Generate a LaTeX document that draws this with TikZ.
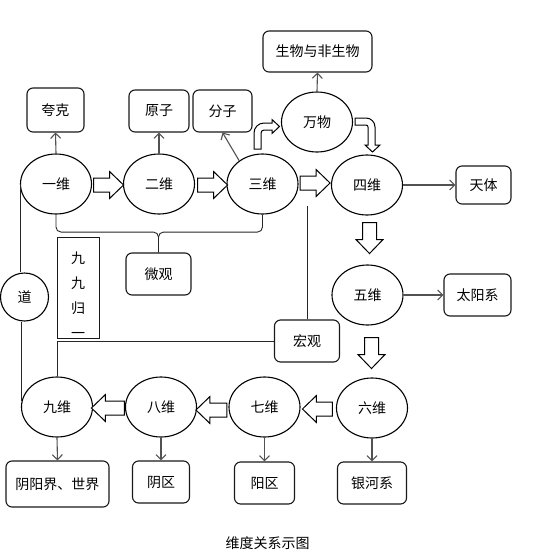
\documentclass[tikz,border=0pt]{standalone}
\usepackage{fontspec}
\newfontfamily\cjk{Noto Sans CJK SC}
\usetikzlibrary{shapes.geometric,arrows.meta,calc}
\tikzset{
  txt/.style={font=\cjk\fontsize{14}{16}\selectfont, inner sep=0pt, text=black},
  ell/.style={txt, draw=black, line width=1.1pt, ellipse, minimum width=71, minimum height=60},
  rbox/.style={txt, draw=black!90, line width=1.1pt, rounded corners=6pt},
  tarrow/.style={draw=black!68, line width=1.1pt, -{Straight Barb[length=5pt,width=10pt]}},
  pline/.style={draw=black!85, line width=0.9pt},
  bline/.style={draw=black, fill=white, line width=1pt},
  barrow/.pic={\draw[bline] (0,-7) -- ({#1-14},-7) -- ({#1-14},-13.5) -- (#1,0) -- ({#1-14},13.5) -- ({#1-14},7) -- (0,7) -- cycle;}
}
\begin{document}
\begin{tikzpicture}[x=1pt,y=-1pt]
\fill[white] (0,0) rectangle (554,558);
\useasboundingbox (0,0) rectangle (554,558);

% ellipses
\node[ell] (e1) at (56,184) {一维};
\node[ell] (e2) at (159,184) {二维};
\node[ell] (e3) at (262.5,184) {三维};
\node[ell] (e4) at (367,185) {四维};
\node[ell] (wm) at (317,122) {万物};
\node[ell] (e5) at (367.5,295) {五维};
\node[ell] (e6) at (372,408) {六维};
\node[ell] (e7) at (264.5,407) {七维};
\node[ell] (e8) at (161,407) {八维};
\node[ell] (e9) at (57,407) {九维};
\node[txt, draw=black, line width=1.1pt, circle, minimum size=48] (dao) at (24.5,297) {道};

% boxes
\node[rbox, minimum width=57, minimum height=44] (kuake) at (55.5,110) {夸克};
\node[rbox, minimum width=60, minimum height=42] (yuanzi) at (159,111) {原子};
\node[rbox, minimum width=59, minimum height=42] (fenzi) at (222.5,111) {分子};
\node[rbox, minimum width=109, minimum height=41] (sw) at (317.5,51.5) {生物与非生物};
\node[rbox, minimum width=55, minimum height=38] (tt) at (483.5,185) {天体};
\node[rbox, minimum width=67, minimum height=42] (ty) at (477.5,295) {太阳系};
\node[rbox, minimum width=65, minimum height=42] (hg) at (307,341) {宏观};
\node[rbox, minimum width=65, minimum height=42] (wg) at (158.5,274) {微观};
\node[txt, draw=black!90, line width=1pt, minimum width=42, minimum height=101, align=center, font=\cjk\fontsize{14}{25}\selectfont] (jj) at (78,287.5) {\rule{0pt}{26pt}九\\九\\归\\一};
\node[rbox, minimum width=103, minimum height=46] (yyj) at (57.5,484) {阴阳界、世界};
\node[rbox, minimum width=57, minimum height=42] (yq) at (161,482) {阴区};
\node[rbox, minimum width=60, minimum height=42] (yangq) at (264.5,483) {阳区};
\node[rbox, minimum width=69, minimum height=42] (yh) at (372,483) {银河系};
\node[txt] (cap) at (267.5,543) {维度关系示图};

% thin arrows
\draw[tarrow] (e1.north) -- (kuake.south);
\draw[tarrow] (e2.north) -- (yuanzi.south);
\draw[tarrow] (e3.135) -- (fenzi.south);
\draw[tarrow] (wm.north) -- (sw.south);
\draw[tarrow] (e4.east) -- (tt.west);
\draw[tarrow] (e5.east) -- (ty.west);
\draw[tarrow] (e9.south) -- (yyj.north);
\draw[tarrow] (e8.south) -- (yq.north);
\draw[tarrow] (e7.south) -- (yangq.north);
\draw[tarrow] (e6.south) -- (yh.north);

% plain lines
\draw[pline] (e1.west) -- (e1.west |- dao.north);
\draw[pline] (dao.south -| e9.170) -- (e9.170);
\draw[pline, rounded corners=5] (e1.south) -- ++(0,17.5) -| (wg.north);
\draw[pline, rounded corners=5] (e3.south) -- ++(0,17.5) -| (wg.north);
\coordinate (hgtop) at (307,206);
\draw[pline] (hgtop) -- (hg.north);
\draw[pline] (hg.west) -| (e9.north);

% block arrows
\pic at ($(e1.east)+(1.5,1)$) {barrow=30};
\pic at ($(e2.east)+(2.5,1)$) {barrow=30};
\pic at ($(e3.east)+(1.5,-1)$) {barrow=30};
\pic[rotate=-90] at ($(e4.south)+(2.5,7)$) {barrow=31};
\pic[rotate=-90] at ($(e5.south)+(4,12)$) {barrow=31};
\pic[rotate=180] at ($(e6.west)+(-3.5,1)$) {barrow=30};
\pic[rotate=180] at ($(e7.west)+(-1.5,3)$) {barrow=31};
\pic[rotate=180] at ($(e8.west)+(-0.5,1)$) {barrow=33};

% bent arrows
\draw[bline] (254,149) -- (254,133) arc[start angle=180,end angle=270,radius=10] -- (272,123) -- (272,119.5) -- (279.5,126.5) -- (272,133.5) -- (272,130) -- (264,130) arc[start angle=270,end angle=180,radius=3] -- (261,149) -- cycle;
\draw[bline] (355,118) -- (366,118) arc[start angle=-90,end angle=0,radius=9] -- (375,145) -- (380,145) -- (372.5,152) -- (365,145) -- (368,145) -- (368,127) arc[start angle=0,end angle=-90,radius=2] -- (355,125) -- cycle;
\end{tikzpicture}
\end{document}
